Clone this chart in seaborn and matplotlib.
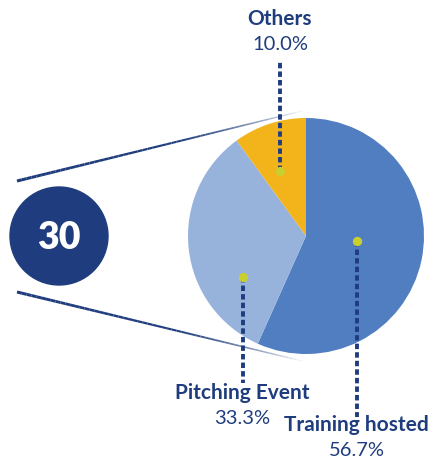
import numpy as np
import matplotlib
matplotlib.use("Agg")
import matplotlib.pyplot as plt
from matplotlib.collections import LineCollection
import seaborn as sns

# data
labels = ["Training hosted", "Pitching Event", "Others"]
values = [56.7, 33.3, 10.0]
total_count = 30

# style / layout
NAVY = "#1f3d7e"
DOT = "#c8cf2e"
palette = sns.color_palette(["#517ec1", "#97b3dc", "#f2b31b"])

sns.set_theme(style="white")
plt.rcParams["font.family"] = ["Lato", "DejaVu Sans"]

W, H = 429, 457
fig = plt.figure(figsize=(W / 100, H / 100), dpi=100)
ax = fig.add_axes([0, 0, 1, 1])

# pixel helper: y measured from top
def py(y):
    return H - y

pie_c = (306, py(236))
pie_r = 118

wedges, _ = ax.pie(values, colors=palette, startangle=90, counterclock=False,
                   center=pie_c, radius=pie_r,
                   wedgeprops=dict(linewidth=0))

# big badge
badge = plt.Circle((59, py(236)), 49, color=NAVY, zorder=3)
ax.add_patch(badge)
ax.text(59, py(238), str(total_count), color="white", fontsize=27,
        fontweight="heavy", ha="center", va="center", zorder=4)

# connector lines, fading towards the pie
def fade_line(p0, p1, n=60):
    xs = np.linspace(p0[0], p1[0], n)
    ys = np.linspace(p0[1], p1[1], n)
    segs = [[(xs[i], ys[i]), (xs[i + 1], ys[i + 1])] for i in range(n - 1)]
    t = np.linspace(0, 1, n - 1)
    alphas = np.clip(1.2 - t ** 3 * 1.15, 0.05, 1)
    widths = 2.2 - 1.3 * t
    cols = [(0.12, 0.24, 0.49, a) for a in alphas]
    ax.add_collection(LineCollection(segs, colors=cols, linewidths=widths,
                                     zorder=1, capstyle="butt"))

fade_line((17, py(181)), (302, py(111)))
fade_line((17, py(292)), (302, py(361)))

# label anchors: dot position from wedge mid-angle + manual offset
angle_off = [6.5, 27, 4]          # degrees
radius_frac = [0.43, 0.64, 0.59]
line_end = [py(417), py(383), py(62)]
text_y = [py(425), py(393), py(19)]

for w, lab, val, off, rf, le, ty in zip(wedges, labels, values, angle_off,
                                         radius_frac, line_end, text_y):
    mid = np.deg2rad((w.theta1 + w.theta2) / 2 + off)
    dx = pie_c[0] + pie_r * rf * np.cos(mid)
    dy = pie_c[1] + pie_r * rf * np.sin(mid)
    ax.plot([dx, dx], [dy, le], color=NAVY, lw=2.8,
            linestyle=(0, (1.4, 0.8)), solid_capstyle="butt", zorder=5)
    ax.scatter([dx], [dy], s=45, color=DOT, zorder=6, linewidths=0)
    ax.text(dx, ty, lab, color=NAVY, fontsize=15, fontweight="bold",
            ha="center", va="center")
    ax.text(dx, ty - 25, f"{val:.1f}%", color=NAVY, fontsize=14.5,
            ha="center", va="center")

ax.set_xlim(0, W)
ax.set_ylim(0, H)
ax.set_aspect("equal")
ax.axis("off")

fig.savefig("out.png", dpi=100)
